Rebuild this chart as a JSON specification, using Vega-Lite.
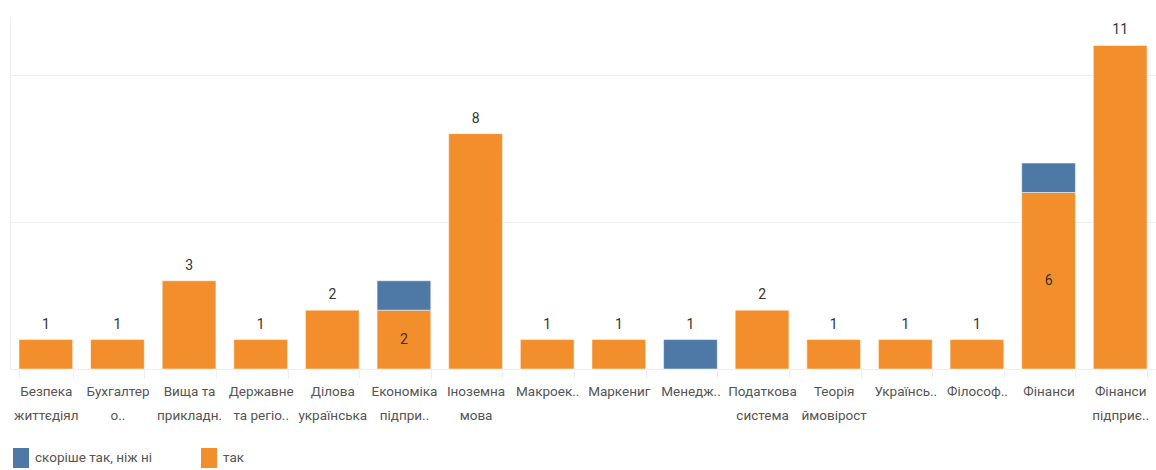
{
  "$schema": "https://vega.github.io/schema/vega-lite/v6.json",
  "width": 1146,
  "height": 353,
  "padding": {"left": 10, "top": 16, "right": 0, "bottom": 101},
  "autosize": {"type": "none"},
  "background": "white",
  "config": {
    "view": {"stroke": null},
    "font": "Roboto",
    "axis": {"labelFont": "Roboto", "titleFont": "Roboto"},
    "legend": {"labelFont": "Roboto"}
  },
  "data": {
    "values": [
      {"category": "Безпека|життєдіял", "series": "так", "value": 1},
      {"category": "Бухгалтер|о..", "series": "так", "value": 1},
      {"category": "Вища та|прикладн.", "series": "так", "value": 3},
      {"category": "Державне|та регіо..", "series": "так", "value": 1},
      {"category": "Ділова|українська", "series": "так", "value": 2},
      {"category": "Економіка|підпри..", "series": "так", "value": 2},
      {"category": "Економіка|підпри..", "series": "скоріше так, ніж ні", "value": 1},
      {"category": "Іноземна|мова", "series": "так", "value": 8},
      {"category": "Макроек..", "series": "так", "value": 1},
      {"category": "Маркениг", "series": "так", "value": 1},
      {"category": "Менедж..", "series": "скоріше так, ніж ні", "value": 1},
      {"category": "Податкова|система", "series": "так", "value": 2},
      {"category": "Теорія|ймовірост", "series": "так", "value": 1},
      {"category": "Українсь..", "series": "так", "value": 1},
      {"category": "Філософ..", "series": "так", "value": 1},
      {"category": "Фінанси", "series": "так", "value": 6},
      {"category": "Фінанси", "series": "скоріше так, ніж ні", "value": 1},
      {"category": "Фінанси|підприє..", "series": "так", "value": 11}
    ]
  },
  "transform": [
    {"joinaggregate": [{"op": "count", "as": "n"}], "groupby": ["category"]}
  ],
  "encoding": {
    "x": {
      "field": "category",
      "type": "nominal",
      "sort": null,
      "title": null,
      "scale": {"paddingInner": 0.25, "paddingOuter": 0.125},
      "axis": {
        "labelAngle": 0,
        "labelExpr": "split(datum.label, '|')",
        "labelFontSize": 13.5,
        "labelColor": "#555555",
        "labelLineHeight": 24,
        "labelPadding": 6,
        "labelLimit": 0,
        "tickBand": "extent",
        "tickSize": 9,
        "tickColor": "#eeeeee",
        "domainColor": "#eeeeee",
        "grid": false
      }
    }
  },
  "layer": [
    {
      "mark": {"type": "bar", "stroke": "white", "strokeWidth": 0.5},
      "encoding": {
        "y": {
          "field": "value",
          "type": "quantitative",
          "stack": "zero",
          "title": null,
          "scale": {"domain": [0, 12], "nice": false},
          "axis": {
            "values": [0, 5, 10],
            "labels": false,
            "ticks": false,
            "grid": true,
            "gridColor": "#eeeeee",
            "domain": true,
            "domainColor": "#eeeeee"
          }
        },
        "color": {
          "field": "series",
          "type": "nominal",
          "scale": {"domain": ["скоріше так, ніж ні", "так"], "range": ["#4E79A7", "#F28E2B"]},
          "legend": {
            "title": null,
            "orient": "none",
            "direction": "horizontal",
            "legendX": 1,
            "legendY": 432,
            "symbolType": "M-0.8,-1H0.8V1H-0.8Z",
            "symbolSize": 400,
            "symbolStrokeWidth": 0,
            "symbolOpacity": 1,
            "labelFontSize": 13.5,
            "labelColor": "#555555",
            "labelOffset": 4,
            "columnPadding": 46
          }
        },
        "order": {"field": "series", "sort": "descending"}
      }
    },
    {
      "transform": [{"filter": "datum.n == 1"}],
      "mark": {"type": "text", "baseline": "bottom", "dy": -8, "fontSize": 14, "color": "#333333"},
      "encoding": {
        "y": {"field": "value", "type": "quantitative"},
        "text": {"field": "value", "type": "quantitative"}
      }
    },
    {
      "transform": [
        {"filter": "datum.n == 2 && datum.series == 'так'"},
        {"calculate": "datum.value / 2", "as": "mid"}
      ],
      "mark": {"type": "text", "baseline": "middle", "fontSize": 14, "color": "#333333"},
      "encoding": {
        "y": {"field": "mid", "type": "quantitative"},
        "text": {"field": "value", "type": "quantitative"}
      }
    }
  ]
}
